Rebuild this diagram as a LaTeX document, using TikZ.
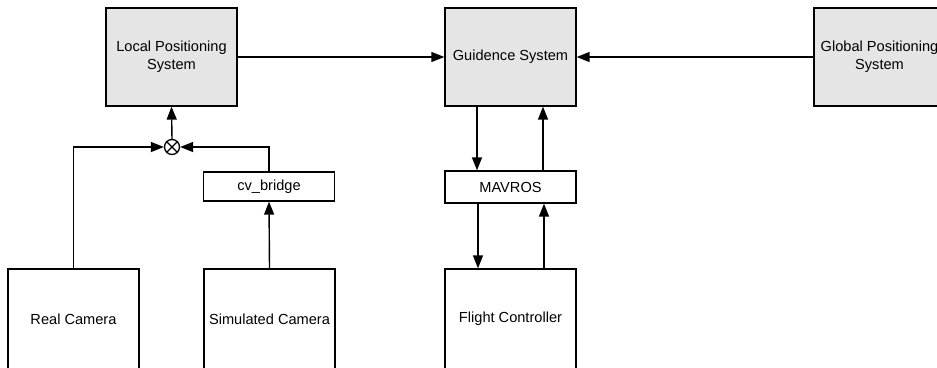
\documentclass[tikz,border=0pt]{standalone}
\usepackage{fontspec}
\setmainfont{Liberation Sans}
\usetikzlibrary{arrows.meta,calc}
\begin{document}
\begin{tikzpicture}[x=1pt,y=-1pt,
  blk/.style={draw,line width=1.3pt,align=center,font=\fontsize{14.6}{18}\selectfont,inner sep=0pt},
  gray/.style={blk,fill=black!10,minimum width=131pt,minimum height=98pt},
  wht/.style={blk,fill=white,minimum width=131pt},
  arr/.style={line width=1.4pt,-{Triangle[length=13pt,width=10pt]}},
  ln/.style={line width=1.4pt}]
\useasboundingbox (0,0) rectangle (937,367);
\clip (0,0) rectangle (937,367);
\node[gray] (local) at (171.5,57) {Local Positioning\\System};
\node[gray] (guid) at (510.5,57) {Guidence System};
\node[gray] (global) at (879.5,57) {Global Positioning\\System};
\node[wht,minimum height=29pt] (cv) at (269,186.5) {cv\_bridge};
\node[wht,minimum height=32pt] (mav) at (510.5,187) {MAVROS};
\node[wht,minimum height=100pt] (real) at (73.5,319) {Real Camera};
\node[wht,minimum height=100pt] (sim) at (269.5,319) {Simulated Camera};
\node[wht,minimum height=100pt] (fc) at (510.5,319) {Flight Controller};
\node[draw,circle,line width=1.3pt,minimum size=15pt,inner sep=0pt] (j) at (172,147) {};
\draw[line width=1.1pt] (j.45) -- (j.225) (j.135) -- (j.315);
\draw[arr] (real.north) |- (j.west);
\draw[arr] (cv.north) |- (j.east);
\draw[arr] (j.north) -- (local.south);
\draw[arr] (sim.north) -- (cv.south);
\draw[arr] (local.east) -- (guid.west);
\draw[arr] (global.west) -- (guid.east);
\draw[arr] ([xshift=-33.5pt]guid.south) -- ([xshift=-33.5pt]mav.north);
\draw[arr] ([xshift=32.5pt]mav.north) -- ([xshift=32.5pt]guid.south);
\draw[arr] ([xshift=-32.5pt]mav.south) -- ([xshift=-32.5pt]fc.north);
\draw[arr] ([xshift=33.5pt]fc.north) -- ([xshift=33.5pt]mav.south);
\end{tikzpicture}
\end{document}
